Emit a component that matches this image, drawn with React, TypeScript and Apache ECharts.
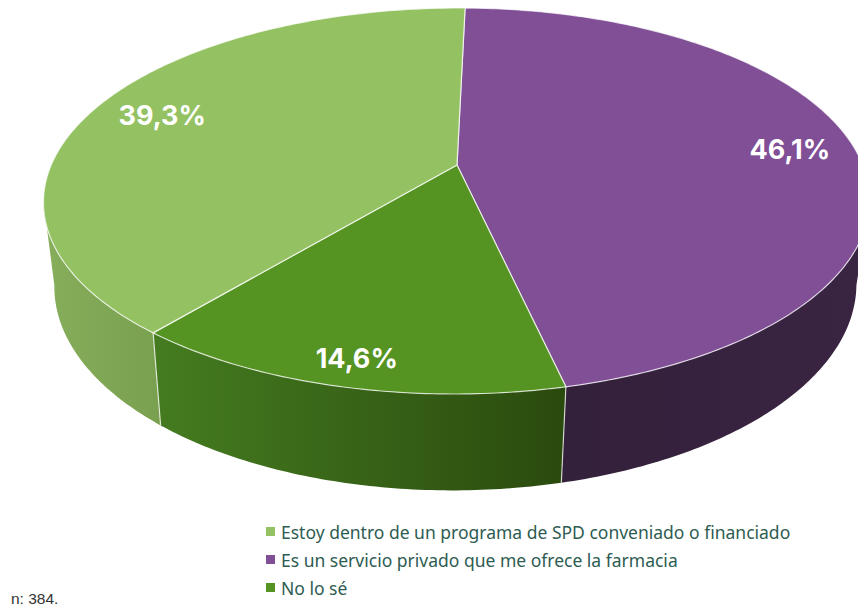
import React, { useEffect, useRef } from "react";
import * as echarts from "echarts";

const categories = [
  "Estoy dentro de un programa de SPD conveniado o financiado",
  "Es un servicio privado que me ofrece la farmacia",
  "No lo sé",
];
const values = [39.3, 46.1, 14.6];
const sampleNote = "n: 384.";

const topColors = ["#94c263", "#804f96", "#559423"];
const sideStops = [
  ["#86ae5b", "#79a04f"],
  ["#3a2443", "#33203a"],
  ["#457c20", "#2a4a0e"],
];
const labelRadii = [0.82, 0.835, 0.89];

// Slices are laid out clockwise, the second category starting near 12 o'clock.
const drawOrder = [1, 2, 0];
const startDeg = 1.0;

const CX = 457;
const P = 0.1865;
const SKEW = -0.0135;
const TOP = { a: 405.8, b: 186.3, cy: 165 };
const BASE = { a: 394, b: 198, cy: 247 };
const rad = (d: number) => (d * Math.PI) / 180;

const project = (g: typeof TOP, deg: number, r = 1) => {
  const s = Math.sin(rad(deg)) * r;
  const c = Math.cos(rad(deg)) * r;
  const w = 1 + P * c;
  const y = g.cy - (g.b * c) / w;
  return [CX + (g.a * s) / w + SKEW * (y - TOP.cy), y];
};

const arc = (g: typeof TOP, from: number, to: number) => {
  const n = Math.max(2, Math.ceil(Math.abs(to - from) / 0.75));
  const pts: number[][] = [];
  for (let i = 0; i <= n; i++) pts.push(project(g, from + ((to - from) * i) / n));
  return pts;
};

const sideMin = (Math.acos(-P) * 180) / Math.PI;
const sideMax = 360 - sideMin;

const ranges: Record<number, [number, number]> = {};
let cursor = startDeg;
drawOrder.forEach((idx) => {
  const end = cursor + (values[idx] / 100) * 360;
  ranges[idx] = [cursor, end];
  cursor = end;
});

const fmt = (v: number) => v.toFixed(1).replace(".", ",") + "%";

const makeSeries = (idx: number) => ({
  type: "custom",
  name: categories[idx],
  coordinateSystem: "none",
  silent: true,
  itemStyle: { color: topColors[idx] },
  data: [values[idx]],
  renderItem: () => {
    const [from, to] = ranges[idx];
    const children: any[] = [];
    const stroke = "rgba(255,255,255,0.72)";
    const sFrom = Math.max(from, sideMin);
    const sTo = Math.min(to, sideMax);
    if (sTo > sFrom) {
      children.push({
        type: "polygon",
        shape: { points: [...arc(TOP, sFrom, sTo), ...arc(BASE, sTo, sFrom)] },
        style: {
          fill: {
            type: "linear",
            x: 0,
            y: 0,
            x2: 1,
            y2: 0,
            colorStops:
              idx === 1
                ? [
                    { offset: 0, color: sideStops[idx][1] },
                    { offset: 1, color: sideStops[idx][0] },
                  ]
                : [
                    { offset: 0, color: sideStops[idx][0] },
                    { offset: 1, color: sideStops[idx][1] },
                  ],
          },
          stroke: "none",
        },
      });
      const edges: number[][][] = [];
      if (from >= sideMin && from <= sideMax) edges.push([project(TOP, from), project(BASE, from)]);
      edges.forEach((pts) =>
        children.push({
          type: "polyline",
          shape: { points: pts },
          style: { stroke, lineWidth: 1.2, fill: "none" },
        })
      );
    }
    children.push({
      type: "polygon",
      shape: { points: [project(TOP, 0, 0), ...arc(TOP, from, to)] },
      style: { fill: topColors[idx], stroke, lineWidth: 1.2, lineJoin: "round" },
    });
    return { type: "group", children };
  },
});

const labelSeries = {
  type: "custom",
  name: "labels",
  coordinateSystem: "none",
  silent: true,
  data: values,
  z: 5,
  renderItem: (params: any) => {
    const idx = params.dataIndex;
    const [from, to] = ranges[idx];
    const [x, y] = project(TOP, (from + to) / 2, labelRadii[idx]);
    return {
      type: "text",
      style: {
        x: x + 1,
        y: y + 1,
        text: fmt(values[idx]),
        fill: "#ffffff",
        font: 'bold 27px Inter, sans-serif',
        align: "center",
        verticalAlign: "middle",
      },
    };
  },
};

export default function App() {
  const ref = useRef<HTMLDivElement>(null);
  useEffect(() => {
    const chart = echarts.init(ref.current!, undefined, { renderer: "svg" });
    chart.setOption({
      animation: false,
      backgroundColor: "#ffffff",
      title: {
        text: sampleNote,
        left: 11,
        top: 590,
        padding: 0,
        textStyle: {
          fontFamily: '"Liberation Sans", sans-serif',
          fontSize: 15.5,
          fontWeight: "normal",
          color: "#333333",
        },
      },
      legend: {
        data: categories,
        orient: "vertical",
        left: 266,
        top: 520,
        padding: 0,
        itemWidth: 9,
        itemHeight: 9,
        itemGap: 5,
        icon: "rect",
        selectedMode: false,
        textStyle: {
          fontFamily: '"Noto Sans", sans-serif',
          fontSize: 17.5,
          color: "#2e5c52",
          lineHeight: 23,
          padding: [0, 0, 0, 1],
        },
      },
      series: [...drawOrder.map(makeSeries), labelSeries],
    });
    return () => chart.dispose();
  }, []);
  return (
    <div
      ref={ref}
      style={{ position: "absolute", left: 0, top: 0, width: 858, height: 605 }}
    />
  );
}
